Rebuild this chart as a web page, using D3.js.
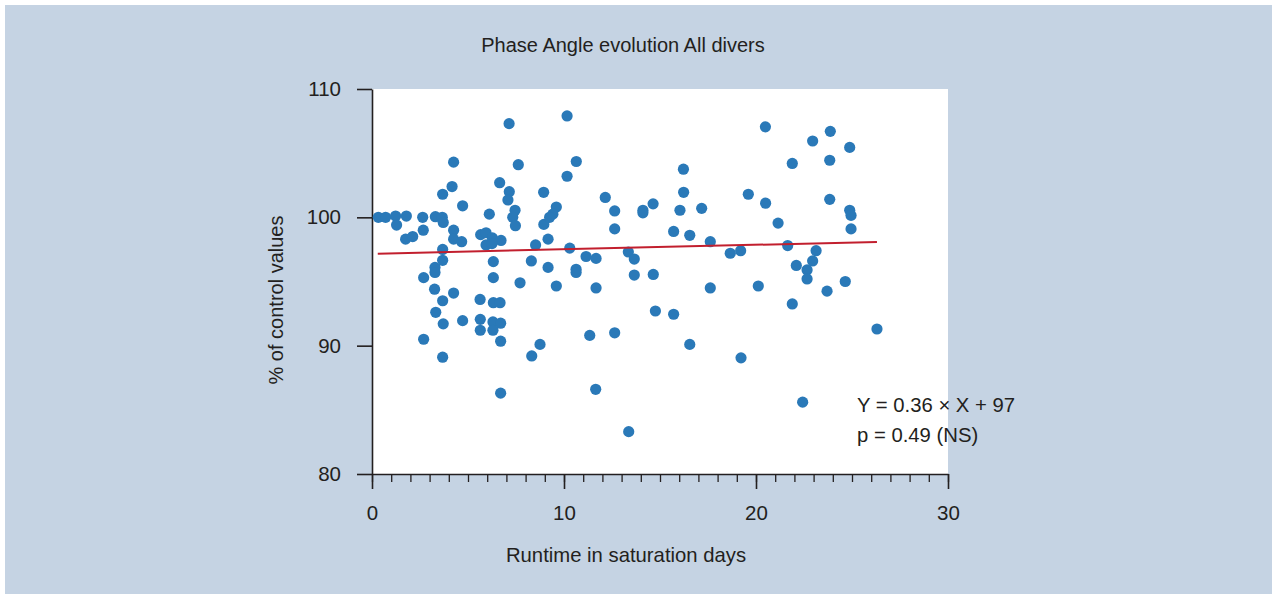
<!DOCTYPE html>
<html>
<head>
<meta charset="utf-8">
<script src="https://cdn.jsdelivr.net/npm/d3@7"></script>
<style>
  html, body { margin: 0; padding: 0; background: #ffffff; }
  svg { display: block; }
  text { font-family: "Liberation Sans", Arial, sans-serif; fill: #231f20; }
</style>
</head>
<body>
<svg id="chart" width="1277" height="598"></svg>
<script>
// ---- data ----
const title = "Phase Angle evolution All divers";
const xLabel = "Runtime in saturation days";
const yLabel = "% of control values";
const xTicks = [0, 10, 20, 30];
const yTicks = [80, 90, 100, 110];
const days = [
  0.33, 0.71, 1.23, 1.79, 1.28, 1.75, 2.12, 2.64, 2.67, 2.69,
  2.69, 3.30, 3.66, 3.71, 3.68, 3.68, 3.68, 3.28, 3.28, 3.26,
  3.32, 3.68, 3.71, 3.68, 4.17, 4.25, 4.25, 4.25, 4.25, 4.67,
  4.72, 4.72, 5.66, 5.94, 6.27, 6.72, 5.94, 6.25, 6.11, 6.32,
  6.32, 5.63, 6.32, 6.67, 5.64, 5.64, 6.30, 6.70, 6.30, 6.70,
  6.70, 6.65, 7.14, 7.15, 7.08, 7.45, 7.33, 7.47, 7.62, 7.71,
  8.52, 8.30, 8.94, 8.95, 8.75, 8.32, 9.17, 9.17, 9.60, 9.42,
  9.25, 9.60, 10.16, 10.64, 10.16, 10.30, 10.63, 10.63, 11.15, 11.67,
  11.67, 11.34, 11.65, 12.15, 12.64, 12.64, 12.64, 13.35, 13.66, 13.66,
  13.37, 14.11, 14.11, 14.64, 14.65, 14.76, 15.71, 15.71, 16.04, 16.22,
  16.23, 16.55, 16.55, 17.17, 17.62, 17.62, 18.66, 19.20, 19.22, 19.60,
  20.12, 20.49, 20.50, 21.15, 21.65, 21.89, 21.89, 22.10, 22.43, 22.66,
  22.66, 22.95, 22.95, 23.13, 23.70, 23.84, 23.84, 23.87, 24.65, 24.88,
  24.88, 24.95, 24.95, 26.30
];
const pct = [
  100.0, 100.0, 100.1, 100.1, 99.4, 98.3, 98.5, 100.0, 99.0, 95.3,
  90.5, 100.05, 100.0, 99.6, 101.8, 97.5, 96.65, 96.1, 95.7, 94.4,
  92.6, 93.5, 91.7, 89.1, 102.4, 104.3, 99.0, 98.3, 94.1, 98.1,
  100.9, 91.95, 98.65, 98.8, 98.4, 98.2, 97.85, 97.95, 100.25, 96.55,
  95.3, 93.6, 93.35, 93.35, 92.05, 91.2, 91.85, 91.75, 91.2, 90.35,
  86.3, 102.7, 107.3, 102.0, 101.35, 100.55, 100.0, 99.35, 104.1, 94.9,
  97.85, 96.6, 101.95, 99.45, 90.1, 89.2, 98.3, 96.1, 100.8, 100.25,
  100.0, 94.65, 107.9, 104.35, 103.2, 97.6, 95.95, 95.7, 96.95, 96.8,
  94.5, 90.8, 86.6, 101.55, 100.5, 99.1, 91.0, 97.3, 96.75, 95.5,
  83.3, 100.55, 100.35, 101.05, 95.55, 92.7, 98.9, 92.45, 100.55, 103.75,
  101.95, 98.6, 90.1, 100.7, 98.1, 94.5, 97.2, 97.4, 89.05, 101.8,
  94.65, 107.05, 101.1, 99.55, 97.8, 104.2, 93.25, 96.25, 85.6, 95.9,
  95.2, 105.95, 96.6, 97.4, 94.25, 104.45, 101.4, 106.7, 95.0, 105.45,
  100.55, 100.15, 99.1, 91.3
];
const fitX = [0.3, 26.3];
const fitY = [97.17, 98.08];
const annotation = ["Y = 0.36 \u00d7 X + 97", "p = 0.49 (NS)"];

// ---- layout ----
const svg = d3.select("#chart");
const L = 372, R = 948, T = 89, B = 474;
const x = d3.scaleLinear().domain([0, 30]).range([L, R]);
const y = d3.scaleLinear().domain([80, 110]).range([B, T]);

svg.append("rect").attr("x", 5).attr("y", 5).attr("width", 1267).attr("height", 589)
  .attr("fill", "#c5d3e3");
svg.append("rect").attr("x", L).attr("y", T).attr("width", R - L).attr("height", B - T)
  .attr("fill", "#ffffff");

// title
svg.append("text").attr("x", 623).attr("y", 52).attr("text-anchor", "middle")
  .style("font-size", "20px").text(title);

// minor x ticks
const xMinor = svg.append("g").attr("transform", `translate(0,${B})`)
  .call(d3.axisBottom(x).tickValues(d3.range(0, 31, 1)).tickSize(8).tickFormat(""));
xMinor.select(".domain").remove();
xMinor.selectAll("line").attr("stroke", "#231f20").attr("stroke-width", 1.3);

// major x axis
const xAxis = svg.append("g").attr("transform", `translate(0,${B})`)
  .call(d3.axisBottom(x).tickValues(xTicks).tickSize(15).tickSizeOuter(0).tickPadding(16));
xAxis.select(".domain").attr("stroke", "#231f20").attr("stroke-width", 1.6);
xAxis.selectAll("line").attr("stroke", "#231f20").attr("stroke-width", 1.6);
xAxis.selectAll("text").style("font-size", "20.5px").attr("fill", "#231f20")
  .style("font-family", "'Liberation Sans', Arial, sans-serif");

// y axis
const yAxis = svg.append("g").attr("transform", `translate(${L},0)`)
  .call(d3.axisLeft(y).tickValues(yTicks).tickSize(15).tickSizeOuter(0).tickPadding(16));
yAxis.select(".domain").attr("stroke", "#231f20").attr("stroke-width", 1.6);
yAxis.selectAll("line").attr("stroke", "#231f20").attr("stroke-width", 1.6);
yAxis.selectAll("text").style("font-size", "20.5px").attr("fill", "#231f20")
  .style("font-family", "'Liberation Sans', Arial, sans-serif");

// axis labels
svg.append("text").attr("x", 626).attr("y", 562).attr("text-anchor", "middle")
  .style("font-size", "20.3px").text(xLabel);
svg.append("text").attr("transform", "translate(283,300) rotate(-90)")
  .attr("text-anchor", "middle").style("font-size", "20px").text(yLabel);

// points
const pts = days.map((d, i) => ({ d, p: pct[i] }));
svg.append("g").selectAll("circle").data(pts).join("circle")
  .attr("cx", p => x(p.d)).attr("cy", p => y(p.p)).attr("r", 5.6)
  .attr("fill", "#2a79b8");

// regression line
svg.append("path")
  .datum(fitX.map((v, i) => [v, fitY[i]]))
  .attr("d", d3.line().x(v => x(v[0])).y(v => y(v[1])))
  .attr("stroke", "#c21f2e").attr("stroke-width", 2).attr("fill", "none");

// annotation
svg.append("g").selectAll("text").data(annotation).join("text")
  .attr("x", 857).attr("y", (d, i) => 412 + i * 30)
  .style("font-size", "20.3px").text(d => d);
</script>
</body>
</html>
